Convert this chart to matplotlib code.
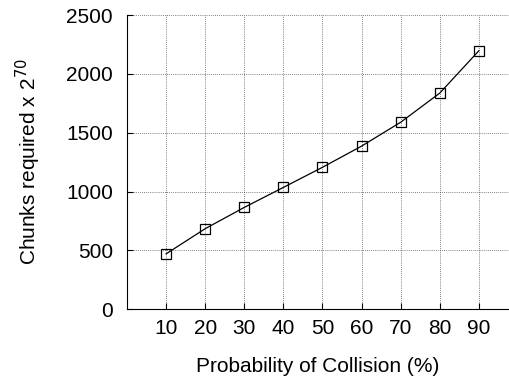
import matplotlib
matplotlib.use('Agg')
import matplotlib.pyplot as plt

prob_collision = [10, 20, 30, 40, 50, 60, 70, 80, 90]
chunks_required = [470, 684, 865, 1035, 1206, 1386, 1589, 1837, 2197]
x_ticks = [10, 20, 30, 40, 50, 60, 70, 80, 90]
y_ticks = [0, 500, 1000, 1500, 2000, 2500]

plt.rcParams['font.family'] = ['Liberation Sans', 'DejaVu Sans']
plt.rcParams['font.size'] = 15

fig = plt.figure(figsize=(5.09, 3.77), dpi=100)
ax = fig.add_axes([0.2495, 0.180, 0.7505, 0.780])

ax.plot(prob_collision, chunks_required, color='black', linewidth=0.9,
        marker='s', markersize=7, markerfacecolor='none',
        markeredgecolor='black', markeredgewidth=0.9)

ax.set_xlim(0, 97.7)
ax.set_ylim(0, 2500)
ax.set_xticks(x_ticks)
ax.set_yticks(y_ticks)
ax.grid(True, linestyle=(0, (1, 1.5)), color='#555555', linewidth=0.6)
ax.tick_params(direction='in', length=4, width=0.8)
ax.tick_params(axis='x', pad=7)
ax.tick_params(axis='y', pad=10)
ax.spines['top'].set_visible(False)
ax.spines['right'].set_visible(False)

ax.set_xlabel('Probability of Collision (%)', labelpad=14)
ax.set_ylabel('Chunks required x 2$^{70}$', labelpad=17)

plt.savefig('out.png', dpi=100)
